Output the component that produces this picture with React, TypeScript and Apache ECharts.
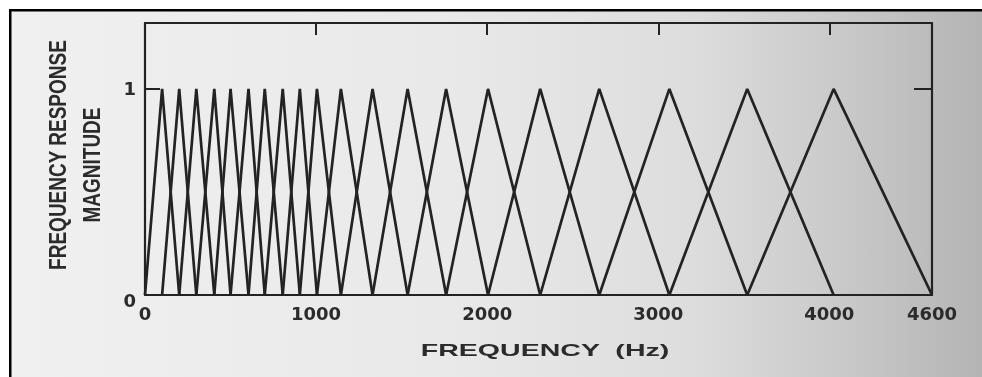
import React, { useEffect, useRef } from "react";
import * as echarts from "echarts";

// Filter-bank band edges / centre frequencies (Hz).
// Filter i rises from filterEdges[i] to a peak at filterEdges[i+1] and falls to filterEdges[i+2].
const filterEdges = [
  0, 100, 200, 300, 405, 500, 605, 700, 805, 905, 1005, 1145, 1330, 1535, 1760,
  2005, 2310, 2655, 3065, 3520, 4025, 4600,
];
const peakMagnitude = 1;
const xTickLabels = [0, 1000, 2000, 3000, 4000, 4600];
const yTickLabels = [0, 1];
const xTitle = "FREQUENCY  (Hz)";
const yTitleLines = ["FREQUENCY RESPONSE", "MAGNITUDE"];

const INK = "#232323";

export default function App() {
  const ref = useRef<HTMLDivElement>(null);

  useEffect(() => {
    if (!ref.current) return;
    const chart = echarts.init(ref.current, null, { renderer: "svg" });

    const series: any[] = [];
    for (let i = 0; i + 2 < filterEdges.length; i++) {
      series.push({
        type: "line",
        data: [
          [filterEdges[i], 0],
          [filterEdges[i + 1], peakMagnitude],
          [filterEdges[i + 2], 0],
        ],
        symbol: "none",
        silent: true,
        lineStyle: { color: INK, width: 2.7 },
        z: 3,
      });
    }

    const axisLine = { show: true, onZero: false, lineStyle: { color: INK, width: 2.2 } };
    const labelFont = {
      color: "#2b2b2b",
      fontFamily: "DejaVu Sans",
      fontWeight: "bold" as const,
      fontSize: 18,
    };

    chart.setOption({
      animation: false,
      grid: { left: 145, right: 50, top: 23, bottom: 82, containLabel: false },
      graphic: [
        {
          type: "rect",
          z: -100,
          silent: true,
          shape: { x: 11, y: 11, width: 971, height: 366 },
          style: {
            fill: new echarts.graphic.LinearGradient(0, 0, 1, 0, [
              { offset: 0, color: "#f0f0f0" },
              { offset: 0.45, color: "#e9e9e9" },
              { offset: 0.7, color: "#dddddd" },
              { offset: 0.85, color: "#cacaca" },
              { offset: 1, color: "#b4b4b4" },
            ]),
          },
        },
        { type: "rect", z: -50, silent: true, shape: { x: 9, y: 9, width: 973, height: 2.5 }, style: { fill: "#000" } },
        { type: "rect", z: -50, silent: true, shape: { x: 9, y: 9, width: 2.5, height: 368 }, style: { fill: "#000" } },
        {
          type: "text",
          x: 545,
          y: 350,
          scaleX: 1.68,
          style: {
            text: xTitle,
            fill: "#2b2b2b",
            font: "bold 17px 'Liberation Sans', Arial, sans-serif",
            align: "center",
            verticalAlign: "middle",
          },
        },
        {
          type: "text",
          x: 58,
          y: 155,
          rotation: Math.PI / 2,
          scaleY: 1.25,
          style: {
            text: yTitleLines[0],
            fill: "#2b2b2b",
            font: "bold 19px 'Liberation Sans', Arial, sans-serif",
            align: "center",
            verticalAlign: "middle",
          },
        },
        {
          type: "text",
          x: 92,
          y: 165,
          rotation: Math.PI / 2,
          scaleY: 1.25,
          style: {
            text: yTitleLines[1],
            fill: "#2b2b2b",
            font: "bold 19px 'Liberation Sans', Arial, sans-serif",
            align: "center",
            verticalAlign: "middle",
          },
        },
      ],
      xAxis: [
        {
          type: "value",
          position: "bottom",
          min: 0,
          max: 4600,
          interval: 1000,
          axisLine,
          axisTick: { show: false },
          splitLine: { show: false },
          axisLabel: {
            ...labelFont,
            margin: 9,
            showMinLabel: true,
            showMaxLabel: true,
            formatter: (v: number) => (xTickLabels.includes(v) ? String(v) : ""),
          },
        },
        {
          type: "value",
          position: "top",
          min: 0,
          max: 4600,
          interval: 1000,
          axisLine,
          axisTick: { show: true, inside: true, length: 12, lineStyle: { color: INK, width: 2 } },
          axisLabel: { show: false },
          splitLine: { show: false },
        },
      ],
      yAxis: [
        {
          type: "value",
          position: "left",
          min: 0,
          max: 1.32,
          interval: 1,
          axisLine,
          axisTick: { show: true, inside: true, length: 15, lineStyle: { color: INK, width: 2 } },
          splitLine: { show: false },
          axisLabel: {
            ...labelFont,
            margin: 9,
            showMaxLabel: false,
            formatter: (v: number) =>
              yTickLabels.includes(v) ? (v === 0 ? "{lo|" + v + "}" : String(v)) : "",
            rich: { lo: { ...labelFont, padding: [10, 0, 0, 0] } },
          },
        },
        {
          type: "value",
          position: "right",
          min: 0,
          max: 1.32,
          interval: 1,
          axisLine,
          axisTick: { show: true, inside: true, length: 18, lineStyle: { color: INK, width: 2 } },
          splitLine: { show: false },
          axisLabel: { show: false },
        },
      ],
      series,
    });

    return () => chart.dispose();
  }, []);

  return (
    <div
      ref={ref}
      style={{ position: "fixed", left: 0, top: 0, width: 982, height: 377 }}
    />
  );
}
